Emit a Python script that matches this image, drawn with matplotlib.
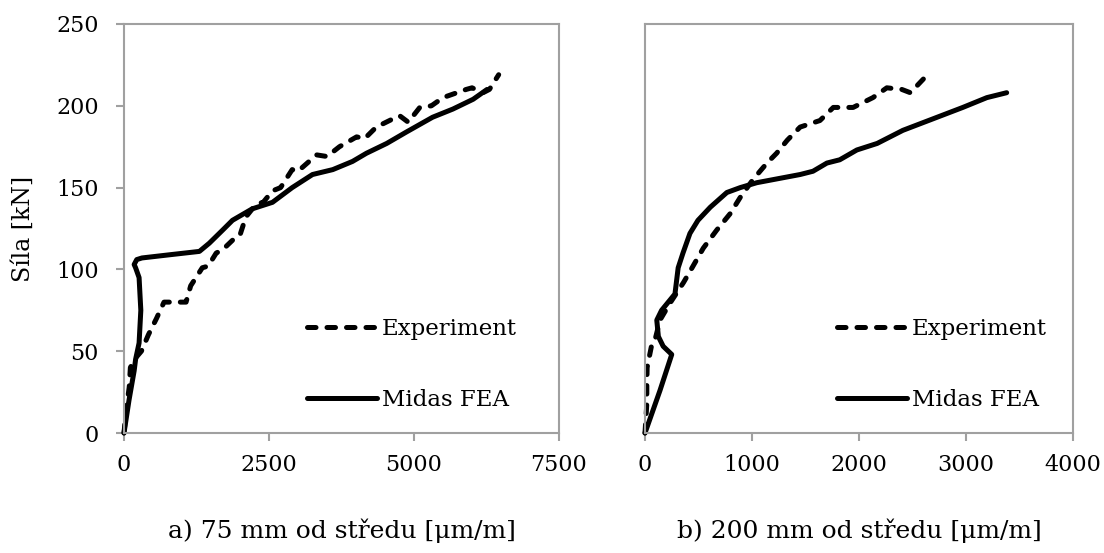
import matplotlib.pyplot as plt

# a) 75 mm od středu
exp_a_x = [0, 40, 90, 110, 180, 300, 420, 560, 690, 800, 1070, 1150, 1350, 1450, 1590,
           1700, 1935, 2000, 2100, 2280, 2400, 2560, 2700, 2900, 3000, 3320, 3500, 3715,
           4010, 4150, 4350, 4750, 4900, 5100, 5300, 5500, 5900, 6000, 6190, 6300, 6460]
exp_a_y = [0, 15, 28, 40, 45, 50, 60, 70, 80, 80, 80, 90, 101, 102, 110,
           112, 120, 121, 132, 140, 141, 148, 150, 161, 160, 170, 169, 175,
           181, 180, 187, 194, 190, 199, 200, 205, 210, 211, 208, 210, 219]
fea_a_x = [0, 86, 175, 200, 260, 290, 260, 200, 175, 220, 310, 800, 1300, 1470, 1700,
           1870, 2210, 2560, 2900, 3250, 3600, 3940, 4180, 4530, 4870, 5320, 5670,
           6020, 6260]
fea_a_y = [0, 20, 38, 45, 55, 75, 95, 101, 103, 106, 107, 109, 111, 116, 124,
           130, 137, 141, 150, 158, 161, 166, 171, 177, 184, 193, 198,
           204, 210]

# b) 200 mm od středu
exp_b_x = [0, 17, 17, 20, 60, 90, 140, 230, 360, 440, 545, 670, 795, 890, 1010,
           1140, 1230, 1330, 1450, 1635, 1760, 1945, 2130, 2260, 2400, 2480, 2640]
exp_b_y = [0, 18, 30, 40, 53, 56, 69, 79, 92, 101, 113, 124, 134, 144, 155,
           165, 171, 179, 187, 191, 199, 199, 205, 211, 210, 208, 219]
fea_b_x = [0, 140, 250, 170, 125, 110, 155, 280, 310, 355, 420, 495, 610, 765, 890,
           1045, 1450, 1570, 1700, 1820, 1980, 2170, 2410, 2730, 2970, 3195, 3380]
fea_b_y = [0, 26, 48, 53, 59, 69, 75, 85, 101, 110, 122, 130, 138, 147, 150,
           153, 158, 160, 165, 167, 173, 177, 185, 193, 199, 205, 208]

labels = ['Experiment', 'Midas FEA']
xlabels = ['a) 75 mm od středu [μm/m]', 'b) 200 mm od středu [μm/m]']

plt.rcParams['font.family'] = ['DejaVu Serif']
gris = '#a0a0a0'

fig = plt.figure(figsize=(11.04, 5.53), dpi=100)
ax1 = fig.add_axes([124 / 1104, 1 - 433 / 553, 435 / 1104, 409 / 553])
ax2 = fig.add_axes([645 / 1104, 1 - 433 / 553, 428 / 1104, 409 / 553])

datos = [(ax1, exp_a_x, exp_a_y, fea_a_x, fea_a_y, 7500, [0, 2500, 5000, 7500], 0.421),
         (ax2, exp_b_x, exp_b_y, fea_b_x, fea_b_y, 4000, [0, 1000, 2000, 3000, 4000], 0.449)]

for i, (ax, ex, ey, fx, fy, xmax, xt, lx) in enumerate(datos):
    ax.plot(ex, ey, color='black', lw=3.6, dashes=(1.7, 2.2), dash_capstyle='round',
            solid_joinstyle='round', clip_on=False, label=labels[0])
    ax.plot(fx, fy, color='black', lw=3.6, solid_capstyle='round',
            solid_joinstyle='round', clip_on=False, label=labels[1])
    ax.set_xlim(0, xmax)
    ax.set_ylim(0, 250)
    ax.set_xticks(xt)
    for s in ax.spines.values():
        s.set_color(gris)
        s.set_linewidth(1.5)
    ax.tick_params(direction='out', length=6, width=1.5, color=gris, labelsize=16)
    ax.tick_params(axis='x', pad=9)
    ax.tick_params(axis='y', pad=12)
    ax.legend(loc='upper left', bbox_to_anchor=(lx, 0.28), frameon=False, fontsize=16.5,
              borderpad=0, borderaxespad=0, handlelength=3.05, handletextpad=0.22,
              labelspacing=2.1)
    ax.set_xlabel(xlabels[i], fontsize=18)
    ax.xaxis.set_label_coords(0.5, -0.208)

ax1.set_yticks([0, 50, 100, 150, 200, 250])
ax1.set_ylabel('Síla [kN]', fontsize=17)
ax1.yaxis.set_label_coords(-0.205, 0.5)
ax2.set_yticks([])

plt.savefig('out.png', dpi=100)
